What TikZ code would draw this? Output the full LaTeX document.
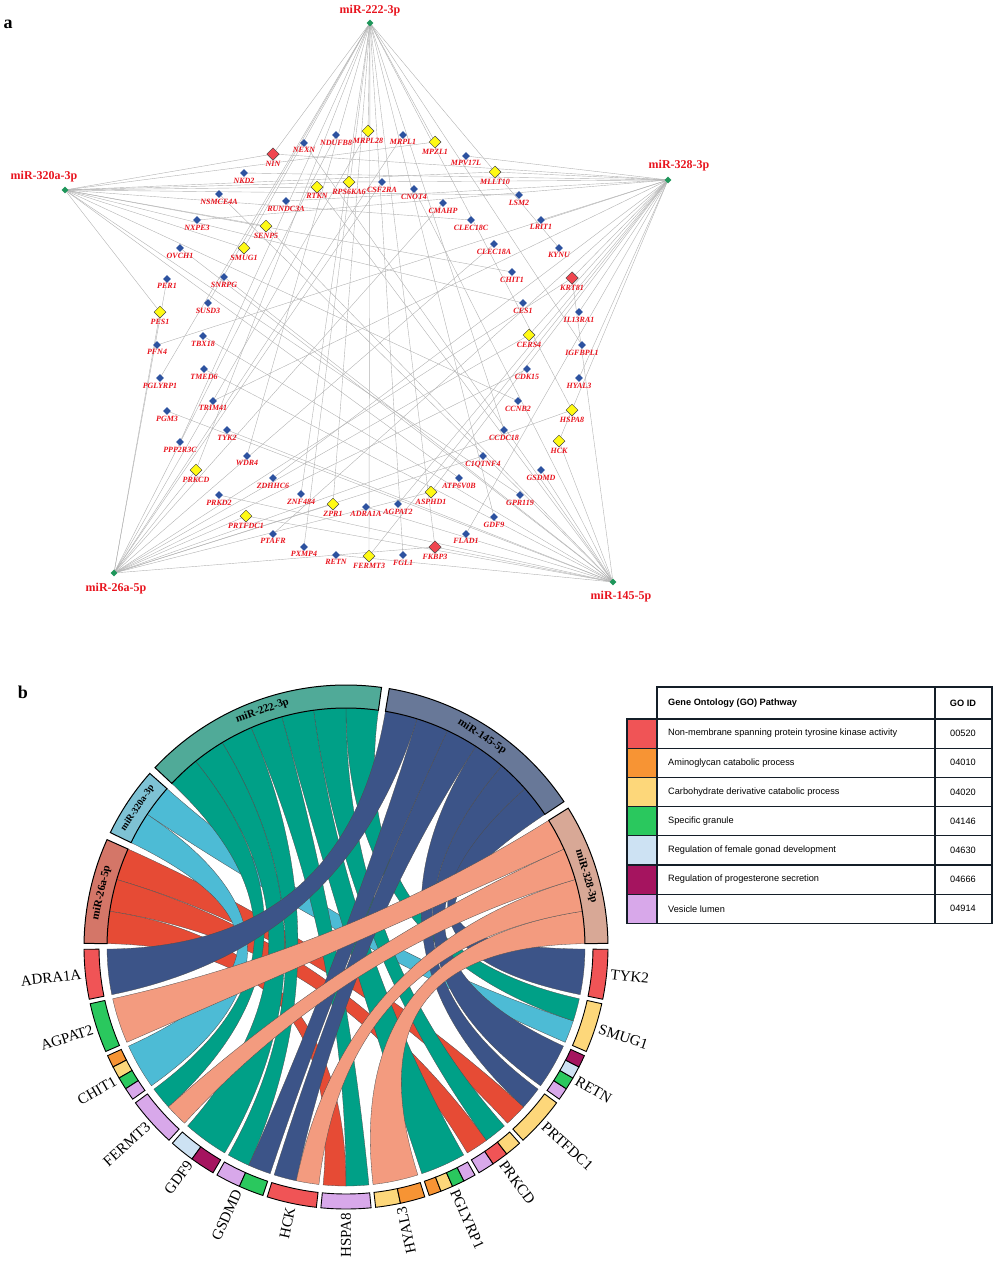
\documentclass[tikz,border=0pt]{standalone}
\usepackage{fontspec}
\setmainfont{Liberation Serif}
\setsansfont{Liberation Sans}
\usetikzlibrary{shapes.geometric,backgrounds}

\definecolor{netred}{RGB}{232,20,30}
\definecolor{nodeblue}{RGB}{45,82,160}
\definecolor{nodered}{RGB}{240,70,80}
\definecolor{nodeyellow}{RGB}{255,250,20}
\definecolor{mirgreen}{RGB}{30,150,90}
\definecolor{l26}{HTML}{E64B35}
\definecolor{l320}{HTML}{4DBBD5}
\definecolor{l222}{HTML}{00A087}
\definecolor{l145}{HTML}{3C5488}
\definecolor{l328}{HTML}{F39B7F}
\definecolor{s26}{RGB}{212,118,104}
\definecolor{s320}{RGB}{126,194,212}
\definecolor{s222}{RGB}{80,170,152}
\definecolor{s145}{RGB}{104,120,152}
\definecolor{s328}{RGB}{216,168,150}
\definecolor{gored}{RGB}{240,84,86}
\definecolor{goorange}{RGB}{247,148,52}
\definecolor{goyellow}{RGB}{253,215,122}
\definecolor{gogreen}{RGB}{42,200,94}
\definecolor{goblue}{RGB}{205,226,243}
\definecolor{gomagenta}{RGB}{165,20,95}
\definecolor{golilac}{RGB}{216,168,234}
\definecolor{tabdark}{RGB}{20,30,40}

\tikzset{edge/.style={draw=black!30,line width=0.4pt}}
\tikzset{deg1/.style={diamond,aspect=1,inner sep=0pt,minimum size=8pt,fill=nodeblue}}
\tikzset{deg2/.style={diamond,aspect=1,inner sep=0pt,minimum size=12pt,fill=nodeyellow,draw=black!75,line width=0.5pt}}
\tikzset{deg3/.style={diamond,aspect=1,inner sep=0pt,minimum size=12.5pt,fill=nodered,draw=black!75,line width=0.5pt}}
\tikzset{mirna/.style={diamond,aspect=1,inner sep=0pt,minimum size=7pt,fill=mirgreen}}
\tikzset{glab/.style={text=netred,inner sep=0.3pt,font=\fontsize{8}{8}\selectfont\bfseries\itshape}}
\tikzset{mlab/.style={text=netred,inner sep=0pt,font=\fontsize{12}{12}\selectfont\bfseries}}
\tikzset{link/.style={draw=black!70,line width=0.3pt}}
\tikzset{sector/.style={draw=black,line width=1pt}}
\tikzset{seg/.style={draw=black,line width=0.9pt}}
\tikzset{mirtxt/.style={inner sep=0pt,font=\fontsize{11}{11}\selectfont\bfseries}}
\tikzset{chlab/.style={inner sep=0pt,font=\fontsize{15}{15}\selectfont}}
\tikzset{tabline/.style={draw=tabdark,line width=1.3pt}}
\tikzset{tabtxt/.style={inner sep=0pt,font=\sffamily\fontsize{9.2}{10}\selectfont}}

\def\ribr{239}
\def\secr{262}
\def\gener{247}
\def\ctlr{80}

% ribbon: colour, miR from, miR to, gene from, gene to
\newcommand\chordlink[5]{%
  \filldraw[link,fill=#1] (#2:\ribr) arc[start angle=#2,end angle=#3,radius=\ribr]
    .. controls (#3:\ctlr) and (#4:\ctlr) .. (#4:\ribr)
    arc[start angle=#4,end angle=#5,radius=\ribr]
    .. controls (#5:\ctlr) and (#2:\ctlr) .. cycle;}

% miRNA sector: from, to, colour, name, text
\newcommand\mirsector[5]{%
  \draw[sector,fill=#3] (#1:\ribr) arc[start angle=#1,end angle=#2,radius=\ribr]
    -- (#2:\secr) arc[start angle=#2,end angle=#1,radius=\secr] -- cycle;
  \pgfmathsetmacro\mm{(#1+#2)/2}
  \node[mirtxt,rotate=\mm-90] (#4) at (\mm:250.5) {#5};}

% gene sector: index, name, number of parts, colours
\newcommand\genesector[4]{%
  \pgfmathsetmacro\gs{180.5+12*#1}
  \pgfmathsetmacro\gm{\gs+5.5}
  \foreach \c [count=\k from 0] in {#4} {
    \pgfmathsetmacro\sa{\gs+\k*11/#3}
    \pgfmathsetmacro\sb{\sa+11/#3}
    \draw[seg,fill=\c] (\sa:\gener) arc[start angle=\sa,end angle=\sb,radius=\gener]
      -- (\sb:\secr) arc[start angle=\sb,end angle=\sa,radius=\secr] -- cycle;
  }
  \ifdim\gm pt>285pt
    \node[chlab,anchor=west,rotate=\gm] (c#2) at (\gm:266) {#2};
  \else
    \node[chlab,anchor=east,rotate=\gm-180] (c#2) at (\gm:266) {#2};
  \fi}

\begin{document}
\begin{tikzpicture}[x=1pt,y=-1pt]
\useasboundingbox (0,0) rectangle (996,1280);

% panel a: network
\node[font=\fontsize{18}{18}\selectfont\bfseries] (pa) at (8,24) {a};

\node[mirna] (m222) at (370,23) {};
\node[mirna] (m320) at (65,190) {};
\node[mirna] (m328) at (668,180) {};
\node[mirna] (m26) at (114,573) {};
\node[mirna] (m145) at (613,582) {};
\node[mlab] (t222) at (370,11) {miR-222-3p};
\node[mlab] (t320) at (44,177) {miR-320a-3p};
\node[mlab] (t328) at (679,166) {miR-328-3p};
\node[mlab] (t26) at (116,589) {miR-26a-5p};
\node[mlab] (t145) at (621,597) {miR-145-5p};

\foreach \n/\x/\y/\d in {NIN/273/154/3, NEXN/304/143/1, NDUFB8/336/135/1,
    MRPL28/368/131/2, MRPL1/403/135/1, MPZL1/435/142/2, MPV17L/466/156/1,
    MLLT10/495/172/2, LSM2/519/195/1, LRIT1/541/220/1, KYNU/559/248/1,
    KRT81/572/278/3, IL13RA1/579/312/1, IGFBPL1/582/345/1, HYAL3/579/378/1,
    HSPA8/572/410/2, HCK/559/441/2, GSDMD/541/470/1, GPR119/520/495/1,
    GDF9/494/517/1, FLAD1/466/534/1, FKBP3/435/547/3, FGL1/403/555/1,
    FERMT3/369/556/2, RETN/336/555/1, PXMP4/304/547/1, PTAFR/273/534/1,
    PRTFDC1/246/516/2, PRKD2/219/495/1, PRKCD/196/470/2, PPP2R3C/180/442/1,
    PGM3/167/411/1, PGLYRP1/160/378/1, PFN4/157/345/1, PES1/160/312/2,
    PER1/167/279/1, OVCH1/180/248/1, NXPE3/197/220/1, NSMCE4A/219/194/1,
    NKD2/244/173/1,
    RTKN/317/187/2, RPS6KA6/349/182/2, CSF2RA/382/182/1, CNOT4/414/189/1,
    CMAHP/443/203/1, CLEC18C/471/220/1, CLEC18A/494/244/1, CHIT1/512/272/1,
    CES1/523/303/1, CERS4/529/335/2, CDK15/527/369/1, CCNB2/518/401/1,
    CCDC18/504/430/1, C1QTNF4/483/456/1, ATP6V0B/459/478/1, ASPHD1/431/492/2,
    AGPAT2/398/504/1, ADRA1A/366/507/1, ZPR1/333/504/2, ZNF484/301/494/1,
    ZDHHC6/273/478/1, WDR4/247/456/1, TYK2/227/430/1, TRIM41/213/401/1,
    TMED6/204/369/1, TBX18/203/336/1, SUSD3/208/303/1, SNRPG/224/277/1,
    SMUG1/244/248/2, SENP5/266/226/2, RUNDC3A/286/201/1}
  \node[deg\d,label={[glab]below:\n}] (\n) at (\x,\y) {};

\begin{scope}[on background layer]
  \foreach \g in {FERMT3,GDF9,HSPA8,PGLYRP1,PRKCD,SMUG1,NIN,FKBP3,MRPL28,MPZL1,
      ZPR1,KYNU,IGFBPL1,FGL1,PXMP4,PPP2R3C,CCDC18,SUSD3,WDR4,ZNF484}
    \draw[edge] (m222.center) -- (\g.center);
  \foreach \g in {CHIT1,SMUG1,NIN,MPZL1,MLLT10,RTKN,RPS6KA6,SENP5,PES1,LSM2,
      GPR119,ATP6V0B,CCNB2,CES1,CLEC18C}
    \draw[edge] (m320.center) -- (\g.center);
  \foreach \g in {AGPAT2,FERMT3,HCK,HYAL3,NIN,KRT81,MLLT10,RPS6KA6,ASPHD1,CERS4,
      MPV17L,LRIT1,IL13RA1,FLAD1,PTAFR,PFN4,NXPE3,NKD2,RUNDC3A,TRIM41,ZDHHC6}
    \draw[edge] (m328.center) -- (\g.center);
  \foreach \g in {HSPA8,PRKCD,PRTFDC1,KRT81,FKBP3,MRPL28,PES1,ZPR1,ASPHD1,CERS4,
      NDUFB8,MRPL1,PER1,C1QTNF4,CDK15,CLEC18A,CMAHP,CSF2RA}
    \draw[edge] (m26.center) -- (\g.center);
  \foreach \g in {ADRA1A,GSDMD,HCK,PRTFDC1,RETN,TYK2,KRT81,FKBP3,RTKN,SENP5,
      NEXN,PRKD2,PGM3,OVCH1,NSMCE4A,CNOT4,SNRPG,TBX18,TMED6}
    \draw[edge] (m145.center) -- (\g.center);
\end{scope}

% panel b: chord diagram
\node[font=\fontsize{18}{18}\selectfont\bfseries] (pb) at (23,692) {b};

\begin{scope}[shift={(346,947)},yscale=-1]
  \chordlink{l26}{155.8}{163.6}{312.5}{318}
  \chordlink{l26}{163.6}{171.4}{300.5}{306}
  \chordlink{l26}{171.4}{179.2}{264.5}{270}
  \chordlink{l320}{138.5}{146.3}{336.5}{342}
  \chordlink{l320}{146.3}{154.1}{204.5}{215.5}
  \chordlink{l222}{82.2}{90}{342}{347.5}
  \chordlink{l222}{90}{97.8}{306}{311.5}
  \chordlink{l222}{97.8}{105.6}{288.5}{299.5}
  \chordlink{l222}{105.6}{113.4}{270}{275.5}
  \chordlink{l222}{113.4}{121.2}{240.5}{246}
  \chordlink{l222}{121.2}{129}{228.5}{239.5}
  \chordlink{l222}{129}{136.8}{216.5}{222}
  \chordlink{l145}{33.7}{41.5}{348.5}{359.5}
  \chordlink{l145}{41.5}{49.3}{324.5}{335.5}
  \chordlink{l145}{49.3}{57.1}{318}{323.5}
  \chordlink{l145}{57.1}{64.9}{252.5}{258}
  \chordlink{l145}{64.9}{72.7}{246}{251.5}
  \chordlink{l145}{72.7}{80.5}{180.5}{191.5}
  \chordlink{l328}{0.8}{8.6}{276.5}{287.5}
  \chordlink{l328}{8.6}{16.4}{258}{263.5}
  \chordlink{l328}{16.4}{24.2}{222}{227.5}
  \chordlink{l328}{24.2}{32.0}{192.5}{203.5}

  \mirsector{155.8}{179.2}{s26}{s26n}{miR-26a-5p}
  \mirsector{138.5}{154.1}{s320}{s320n}{\fontsize{9.5}{9.5}\selectfont miR-320a-3p}
  \mirsector{82.2}{136.8}{s222}{s222n}{miR-222-3p}
  \mirsector{33.7}{80.5}{s145}{s145n}{miR-145-5p}
  \mirsector{0.8}{32.0}{s328}{s328n}{miR-328-3p}

  \genesector{0}{ADRA1A}{1}{gored}
  \genesector{1}{AGPAT2}{1}{gogreen}
  \genesector{2}{CHIT1}{4}{goorange,goyellow,gogreen,golilac}
  \genesector{3}{FERMT3}{1}{golilac}
  \genesector{4}{GDF9}{2}{goblue,gomagenta}
  \genesector{5}{GSDMD}{2}{golilac,gogreen}
  \genesector{6}{HCK}{1}{gored}
  \genesector{7}{HSPA8}{1}{golilac}
  \genesector{8}{HYAL3}{2}{goyellow,goorange}
  \genesector{9}{PGLYRP1}{4}{goorange,goyellow,gogreen,golilac}
  \genesector{10}{PRKCD}{3}{golilac,gored,goyellow}
  \genesector{11}{PRTFDC1}{1}{goyellow}
  \genesector{12}{RETN}{4}{golilac,gogreen,goblue,gomagenta}
  \genesector{13}{SMUG1}{1}{goyellow}
  \genesector{14}{TYK2}{1}{gored}
\end{scope}

% GO table
\draw[tabline] (657,687) rectangle (935,719);
\draw[tabline] (935,687) rectangle (992,719);
\node[tabtxt,font=\sffamily\bfseries\fontsize{9.2}{10}\selectfont,anchor=west] (hp) at (668,703) {Gene Ontology (GO) Pathway};
\node[tabtxt,font=\sffamily\bfseries\fontsize{9.2}{10}\selectfont] (hid) at (963,703) {GO ID};
\foreach \c/\t/\id [count=\i] in {
    gored/Non-membrane spanning protein tyrosine kinase activity/00520,
    goorange/Aminoglycan catabolic process/04010,
    goyellow/Carbohydrate derivative catabolic process/04020,
    gogreen/Specific granule/04146,
    goblue/Regulation of female gonad development/04630,
    gomagenta/Regulation of progesterone secretion/04666,
    golilac/Vesicle lumen/04914} {
  \pgfmathsetmacro\yt{719+(\i-1)*29.2}
  \draw[tabline,fill=\c] (627,\yt) rectangle (657,\yt+29.2);
  \draw[tabline] (657,\yt) rectangle (935,\yt+29.2);
  \draw[tabline] (935,\yt) rectangle (992,\yt+29.2);
  \node[tabtxt,anchor=west] (p\i) at (668,\yt+14.6) {\t};
  \node[tabtxt] (id\i) at (963,\yt+14.6) {\id};
}
\end{tikzpicture}
\end{document}
